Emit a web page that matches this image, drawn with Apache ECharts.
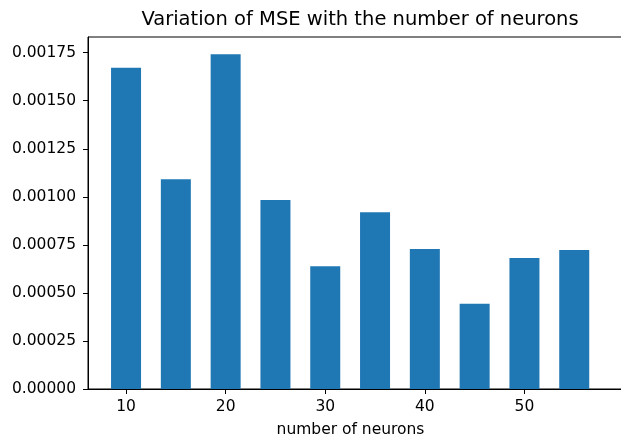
<!DOCTYPE html>
<html><head><meta charset="utf-8">
<script src="https://cdn.jsdelivr.net/npm/echarts@6/dist/echarts.min.js"></script>
<style>html,body{margin:0;padding:0;background:#fff;overflow:hidden}#c{width:660px;height:436px}</style>
</head><body><div id="c"></div>
<script>
const neurons = [10, 15, 20, 25, 30, 35, 40, 45, 50, 55];
const mse = [0.001672, 0.001092, 0.001742, 0.000983, 0.000639, 0.000920, 0.000729, 0.000443, 0.000681, 0.000723];
const xTicks = [10, 20, 30, 40, 50];
const yTicks = [0, 0.00025, 0.0005, 0.00075, 0.001, 0.00125, 0.0015, 0.00175];
const titleText = 'Variation of MSE with the number of neurons';
const xLabel = 'number of neurons';

const font = 'DejaVu Sans';
const chart = echarts.init(document.getElementById('c'), null, {renderer: 'canvas'});
chart.setOption({
  animation: false,
  backgroundColor: '#fff',
  graphic: [
    {type: 'text', x: 360, y: 20.3, style: {text: titleText, textAlign: 'center', textVerticalAlign: 'middle',
      font: '19.5px "DejaVu Sans"', fill: '#000'}},
    {type: 'text', x: 350.5, y: 429.6, style: {text: xLabel, textAlign: 'center', textVerticalAlign: 'middle',
      font: '15.5px "DejaVu Sans"', fill: '#000'}}
  ],
  grid: {left: 88, top: 37, width: 546, height: 352, show: true, borderColor: '#000', borderWidth: 1},
  xAxis: {
    type: 'value', min: 6.18, max: 61,
    splitLine: {show: false},
    axisLine: {lineStyle: {color: '#000', width: 1}},
    axisTick: {customValues: xTicks, length: 5, lineStyle: {color: '#000'}},
    axisLabel: {customValues: xTicks, margin: 10, fontFamily: font, fontSize: 15.5, color: '#000'}
  },
  yAxis: {
    type: 'value', min: 0, max: 0.0018316,
    splitLine: {show: false},
    axisLine: {show: true, lineStyle: {color: '#000', width: 1}},
    axisTick: {show: true, customValues: yTicks, length: 5, lineStyle: {color: '#000'}},
    axisLabel: {customValues: yTicks, margin: 12, fontFamily: font, fontSize: 15.5, color: '#000',
      formatter: v => v.toFixed(5)}
  },
  series: [{
    type: 'bar',
    barWidth: 30,
    data: neurons.map((n, i) => [n, mse[i]]),
    itemStyle: {color: '#1f77b4'}
  }]
});
</script></body></html>
